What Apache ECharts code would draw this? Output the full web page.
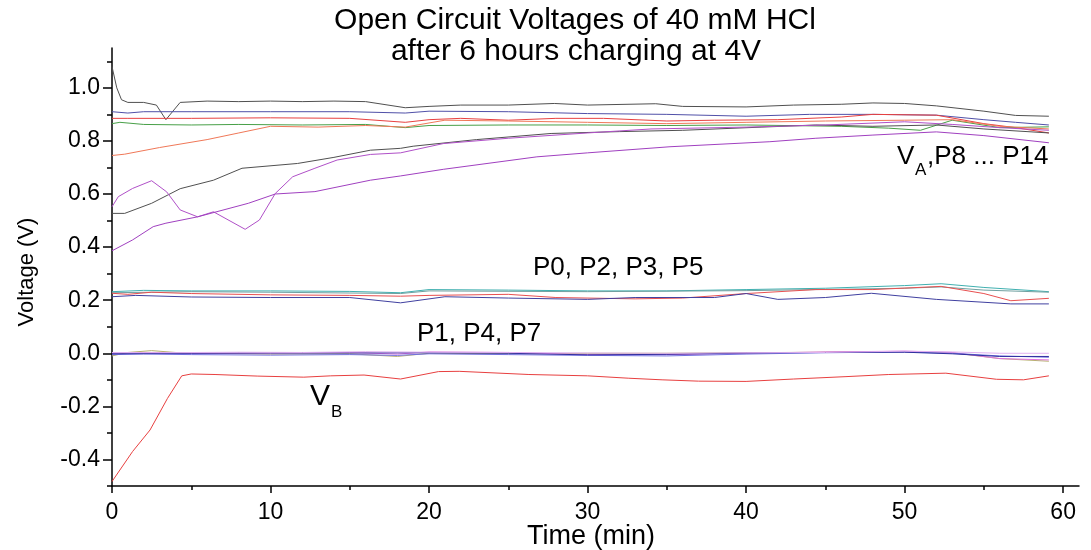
<!DOCTYPE html>
<html>
<head>
<meta charset="utf-8">
<script src="https://cdn.jsdelivr.net/npm/echarts@6/dist/echarts.min.js"></script>
<style>
  html, body { margin: 0; padding: 0; background: #fff; }
  #chart { width: 1091px; height: 550px; }
</style>
</head>
<body>
<div id="chart"></div>
<script>
// time (min) / voltage (V) pairs

// V_A, P8 ... P14
const blk1 = [[0,1.08],[0.3,1.0],[0.6,0.955],[1,0.945],[2,0.945],[2.8,0.935],[3.4,0.88],[4.3,0.945],[6,0.95],[8,0.948],[10,0.95],[12,0.948],[14,0.95],[16,0.948],[18.5,0.925],[20,0.93],[22,0.935],[25,0.935],[27.9,0.941],[30,0.935],[34.3,0.94],[36,0.93],[40,0.928],[43,0.935],[46,0.938],[48,0.943],[50,0.941],[52,0.932],[55,0.912],[57,0.896],[59.1,0.893]]
const blu1 = [[0,0.91],[1,0.905],[2,0.91],[5,0.91],[10,0.91],[15,0.91],[18.5,0.905],[20,0.912],[25,0.91],[30,0.903],[35,0.9],[40,0.893],[44,0.9],[48,0.9],[52,0.897],[55,0.88],[57,0.87],[59.1,0.86]]
const red1 = [[0,0.885],[1,0.885],[5,0.885],[10,0.887],[15,0.885],[18.5,0.87],[20,0.88],[22,0.885],[25,0.878],[28,0.885],[31,0.885],[35,0.875],[38,0.878],[42,0.88],[46,0.89],[48,0.9],[52,0.897],[55,0.865],[57,0.85],[59.1,0.83]]
const grn1 = [[0,0.865],[0.5,0.87],[2,0.862],[5,0.86],[8,0.862],[12,0.86],[16,0.862],[18.5,0.85],[20,0.858],[25,0.86],[30,0.86],[35,0.858],[40,0.86],[46,0.855],[49,0.848],[51,0.84],[53,0.878],[56,0.85],[59.1,0.853]]
const org1 = [[0,0.745],[0.8,0.75],[3,0.775],[6,0.805],[8,0.83],[10,0.855],[13,0.852],[16,0.858],[18.5,0.852],[21,0.878],[25,0.875],[30,0.87],[35,0.865],[40,0.87],[45,0.875],[50,0.878],[53,0.88],[56,0.855],[59.1,0.845]]
const blk2 = [[0,0.527],[0.8,0.527],[2.5,0.565],[4.3,0.62],[6.4,0.652],[8.2,0.697],[11.7,0.715],[14,0.738],[16.3,0.765],[18.2,0.772],[19,0.78],[23,0.805],[27.7,0.828],[32,0.835],[36,0.84],[41,0.852],[44.4,0.86],[48,0.855],[52,0.86],[55,0.845],[59.1,0.83]]
const pur1 = [[0,0.552],[0.4,0.59],[1.3,0.621],[2.5,0.65],[3.45,0.608],[4.3,0.54],[5.4,0.514],[6.4,0.533],[8.4,0.467],[9.3,0.502],[10.3,0.602],[11.4,0.665],[12.8,0.697],[14.2,0.728],[16.3,0.749],[18.2,0.755],[20.9,0.79],[25,0.81],[30,0.83],[34,0.845],[40,0.852],[45,0.86],[50,0.872],[53,0.862],[56,0.85],[59.1,0.84]]
const pur2 = [[0,0.386],[1.3,0.427],[2.6,0.477],[3.4,0.49],[5.4,0.514],[8.6,0.565],[10.3,0.6],[12.8,0.609],[16.3,0.652],[18.2,0.668],[20.9,0.693],[26.8,0.74],[30,0.755],[35.2,0.778],[41.5,0.797],[44.4,0.81],[48,0.822],[52,0.834],[55,0.82],[59.1,0.793]]

// P0, P2, P3, P5
const tea2 = [[0,0.232],[2,0.237],[5,0.235],[10,0.235],[15,0.233],[18.2,0.228],[20,0.24],[25,0.238],[30,0.235],[35,0.235],[40,0.24],[45,0.245],[50,0.255],[52.3,0.262],[55,0.248],[59.1,0.232]]
const gry2 = [[0,0.228],[5,0.232],[10,0.23],[18.2,0.225],[20,0.235],[30,0.232],[40,0.236],[50,0.245],[52.3,0.25],[55,0.238],[59.1,0.23]]
const red2 = [[0,0.226],[1,0.222],[2.5,0.23],[5,0.225],[10,0.22],[15,0.218],[18.2,0.215],[20,0.218],[25,0.222],[28,0.21],[33,0.205],[36,0.208],[40,0.225],[44.4,0.24],[48,0.24],[52.3,0.252],[55,0.225],[56.7,0.198],[59.1,0.207]]
const blu2 = [[0,0.213],[1.5,0.218],[5,0.212],[10,0.21],[15,0.21],[18.2,0.19],[21,0.213],[25,0.208],[30,0.203],[33,0.21],[38,0.21],[40,0.225],[42,0.203],[45,0.21],[47.9,0.226],[52,0.203],[56.7,0.186],[59.1,0.186]]

// P1, P4, P7
const olv3 = [[0,-0.01],[1,0.003],[2.5,0.01],[4,0.003],[6,0.0],[10,-0.003],[15,-0.002],[18,-0.012],[20,0.0],[25,-0.002],[30,0.0],[35,0.0],[40,0.002],[45,0.004],[50,0.006],[53,0.002],[56,-0.02],[59.1,-0.03]]
const mag3 = [[0,0.0],[2,0.003],[5,0.0],[10,0.001],[15,0.003],[18,-0.003],[20,0.005],[25,0.003],[30,-0.005],[35,-0.005],[40,0.0],[45,0.005],[50,0.008],[53,0.003],[56,-0.02],[59.1,-0.025]]
const blu3 = [[0,-0.005],[2,-0.003],[5,-0.005],[10,-0.007],[15,-0.005],[18,-0.008],[20,-0.002],[25,-0.005],[30,-0.008],[35,-0.01],[40,-0.003],[45,0.002],[50,0.005],[53,0.0],[56,-0.01],[59.1,-0.015]]
const nav3 = [[0,-0.002],[5,0.0],[10,0.001],[15,0.001],[20,0.002],[25,0.0],[30,-0.006],[35,-0.004],[40,0.001],[45,0.003],[50,0.004],[53,-0.002],[56,-0.012],[59.1,-0.012]]
const lav3 = [[0,0.003],[3,0.002],[8,0.004],[12,0.003],[16,0.006],[20,0.004],[25,0.003],[30,0.001],[35,0.0],[40,0.002],[45,0.003],[50,0.008],[53,0.005],[56,0.0],[59.1,0.0]]

// V_B
const vb = [[0,-0.483],[1.3,-0.37],[2.4,-0.289],[3.5,-0.17],[4.4,-0.085],[5,-0.078],[6.5,-0.08],[9.2,-0.086],[12.1,-0.09],[13.8,-0.085],[15.9,-0.082],[18.2,-0.097],[20.6,-0.069],[21.9,-0.068],[26.3,-0.08],[30,-0.085],[32.6,-0.094],[34.7,-0.1],[37,-0.105],[40,-0.106],[43,-0.097],[46.3,-0.088],[49,-0.08],[52.6,-0.075],[55.8,-0.098],[57.5,-0.1],[59.1,-0.085]]

// ticks
const xMajor = [0, 10, 20, 30, 40, 50, 60]
const xMinor = [5, 15, 25, 35, 45, 55]
const yMajor = [-0.4, -0.2, 0, 0.2, 0.4, 0.6, 0.8, 1.0]
const yMinor = [-0.5, -0.3, -0.1, 0.1, 0.3, 0.5, 0.7, 0.9, 1.1]

const lines = [
  [blk1, '#505050'], [blu1, '#5050a8'], [red1, '#e84040'], [grn1, '#48a048'],
  [org1, '#f07858'], [blk2, '#505050'], [pur1, '#b050c8'], [pur2, '#a040c0'],
  [tea2, '#40b0b0'], [gry2, '#70a0a0'], [red2, '#e85050'], [blu2, '#4040a0'],
  [olv3, '#b8b070'], [mag3, '#e070e0'], [blu3, '#7070e0'], [nav3, '#3030a0'], [lav3, '#e0b0f0'],
  [vb, '#e84040']
]

const FONT = '"Liberation Sans", Arial, sans-serif'

const chart = echarts.init(document.getElementById('chart'))

const axisLineStyle = { color: '#000', width: 1.5 }
const tickStyle = { color: '#000', width: 1.5 }
const xRange = { min: 0, max: 61 }
const yRange = { min: -0.5, max: 1.15 }

const txt = (x, y, text, size, align) => ({
  type: 'text', x, y,
  style: { text, font: size + 'px ' + FONT, fill: '#000', align: align || 'left', verticalAlign: 'middle' }
})

chart.setOption({
  animation: false,
  backgroundColor: '#fff',
  grid: { left: 112, right: 12, top: 48, bottom: 64 },
  xAxis: [
    {
      type: 'value', ...xRange,
      axisLine: { onZero: false, lineStyle: axisLineStyle },
      axisTick: { customValues: xMajor, length: 7, lineStyle: tickStyle },
      axisLabel: { customValues: xMajor, margin: 15, fontSize: 23, color: '#000', fontFamily: FONT },
      splitLine: { show: false }
    },
    {
      type: 'value', ...xRange, position: 'bottom',
      axisLine: { show: false, onZero: false },
      axisTick: { customValues: xMinor, length: 4, lineStyle: tickStyle },
      axisLabel: { show: false },
      splitLine: { show: false }
    }
  ],
  yAxis: [
    {
      type: 'value', ...yRange,
      axisLine: { show: true, onZero: false, lineStyle: axisLineStyle },
      axisTick: { show: true, customValues: yMajor, length: 9, lineStyle: tickStyle },
      axisLabel: {
        customValues: yMajor, margin: 12, fontSize: 23, color: '#000', fontFamily: FONT,
        formatter: v => v.toFixed(1)
      },
      splitLine: { show: false }
    },
    {
      type: 'value', ...yRange, position: 'left',
      axisLine: { show: false, onZero: false },
      axisTick: { show: true, customValues: yMinor, length: 5, lineStyle: tickStyle },
      axisLabel: { show: false },
      splitLine: { show: false }
    }
  ],
  series: lines.map(([data, color]) => ({
    type: 'line',
    data,
    showSymbol: false,
    symbol: 'none',
    lineStyle: { width: 1, color },
    silent: true
  })),
  graphic: [
    txt(575, 21, 'Open Circuit Voltages of 40 mM HCl', 30, 'center'),
    txt(576, 52, 'after 6 hours charging at 4V', 30, 'center'),
    {
      type: 'text', x: 27, y: 272, rotation: Math.PI / 2,
      style: { text: 'Voltage (V)', font: '22px ' + FONT, fill: '#000', align: 'center', verticalAlign: 'middle' }
    },
    txt(591, 537, 'Time (min)', 27, 'center'),
    txt(897, 157, 'V', 26),
    txt(915, 170.5, 'A', 17),
    txt(927, 157, ',P8 ... P14', 26),
    txt(533, 267.5, 'P0, P2, P3, P5', 26),
    txt(417, 334, 'P1, P4, P7', 26),
    txt(310, 396.5, 'V', 30),
    txt(331, 412, 'B', 17)
  ]
})

window.addEventListener('resize', () => chart.resize())
</script>
</body>
</html>
